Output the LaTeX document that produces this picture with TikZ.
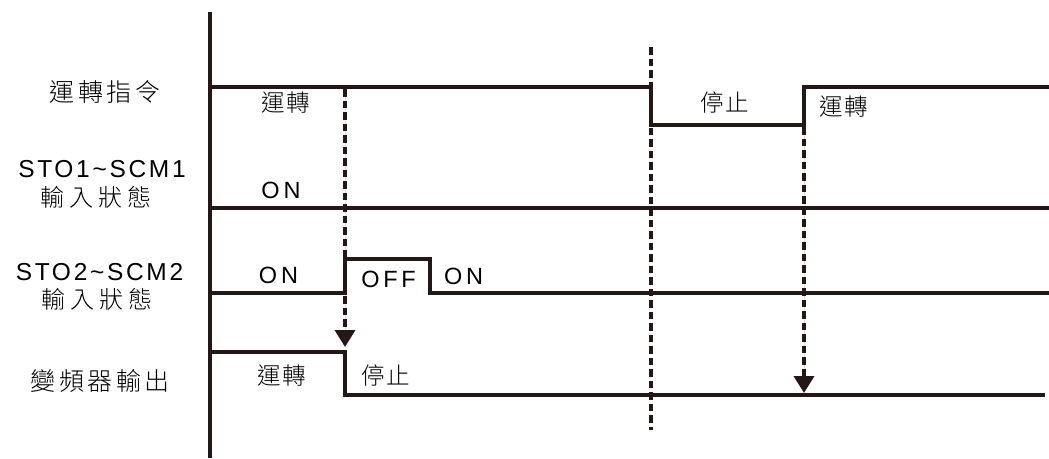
\documentclass[tikz,border=0pt]{standalone}
\usepackage{fontspec}
\setmainfont{Liberation Sans}[LetterSpace=11]
\newfontfamily\cjk{Noto Sans CJK TC Light}
\usetikzlibrary{arrows.meta}
\definecolor{ink}{HTML}{231815}
\begin{document}
\begin{tikzpicture}[x=1pt,y=-1pt,
  sig/.style={line width=3.3pt, draw=ink, line join=miter},
  axisline/.style={line width=3.6pt, draw=ink},
  dashline/.style={line width=3.6pt, draw=ink, dash pattern=on 7.5pt off 4pt},
  cnbig/.style={inner sep=0pt, font=\cjk\addfontfeature{LetterSpace=14}\fontsize{25}{28}\selectfont},
  cnsub/.style={inner sep=0pt, font=\cjk\addfontfeature{LetterSpace=21}\fontsize{24}{28}\selectfont},
  cn/.style={inner sep=0pt, font=\cjk\addfontfeature{LetterSpace=6}\fontsize{23.5}{26}\selectfont},
  lnbig/.style={inner sep=0pt, font=\fontsize{24.5}{28}\selectfont},
  ln/.style={inner sep=0pt, font=\addfontfeature{LetterSpace=16}\fontsize{23.5}{26}\selectfont},
  tipped/.style={-{Triangle[width=20pt,length=17pt]}, fill=ink}
]
\useasboundingbox (0,0) rectangle (1049,458);
% axis
\coordinate (axT) at (210,12);
\coordinate (axB) at (210,458);
\draw[axisline] (axT) -- (axB);
% row 1
\coordinate (r1a) at (210,87);
\coordinate (r1b) at (651,87);
\coordinate (r1c) at (651,125);
\coordinate (r1d) at (804,125);
\coordinate (r1e) at (804,87);
\coordinate (r1f) at (1049,87);
\draw[sig] (r1a) -- (r1b) -- (r1c) -- (r1d) -- (r1e) -- (r1f);
% row 2
\coordinate (r2a) at (210,208);
\coordinate (r2b) at (1049,208);
\draw[sig] (r2a) -- (r2b);
% row 3
\coordinate (r3a) at (210,293);
\coordinate (r3b) at (345,293);
\coordinate (r3c) at (345,259);
\coordinate (r3d) at (430,259);
\coordinate (r3e) at (430,293);
\coordinate (r3f) at (1049,293);
\draw[sig] (r3a) -- (r3b) -- (r3c) -- (r3d) -- (r3e) -- (r3f);
% row 4
\coordinate (r4a) at (210,352);
\coordinate (r4b) at (345,352);
\coordinate (r4c) at (345,395);
\coordinate (r4d) at (1045,395);
\draw[sig] (r4a) -- (r4b) -- (r4c) -- (r4d);
% dashed lines
\coordinate (d1s) at (345,89);
\coordinate (d1e) at (345,347);
\coordinate (d2s) at (651,47);
\coordinate (d2e) at (651,430);
\coordinate (d3s) at (804,127);
\coordinate (d3e) at (804,393);
\draw[dashline, tipped] (d1s) -- (d1e);
\draw[dashline] (d2s) -- (d2e);
\draw[dashline, tipped] (d3s) -- (d3e);
% left labels
\node[cnbig] (lcmd) at (105,91.5) {運轉指令};
\node[lnbig] (lsto1) at (102,169) {STO1\char"7E SCM1};
\node[cnsub] (lsto1b) at (96,197) {輸入狀態};
\node[lnbig] (lsto2) at (99.5,272) {STO2\char"7E SCM2};
\node[cnsub] (lsto2b) at (97,299) {輸入狀態};
\node[cnbig] (lout) at (100,380.5) {變頻器輸出};
% signal labels
\node[cn] (run1) at (286,102.5) {運轉};
\node[cn] (stop1) at (725,102.5) {停止};
\node[cn] (run2) at (844,106.5) {運轉};
\node[ln] (on1) at (281,190) {ON};
\node[ln] (on2) at (278.5,275.5) {ON};
\node[ln] (off) at (388.5,279.5) {OFF};
\node[ln] (on3) at (463.5,276) {ON};
\node[cn] (run3) at (282,375.5) {運轉};
\node[cn] (stop3) at (385.5,375.5) {停止};
\end{tikzpicture}
\end{document}
